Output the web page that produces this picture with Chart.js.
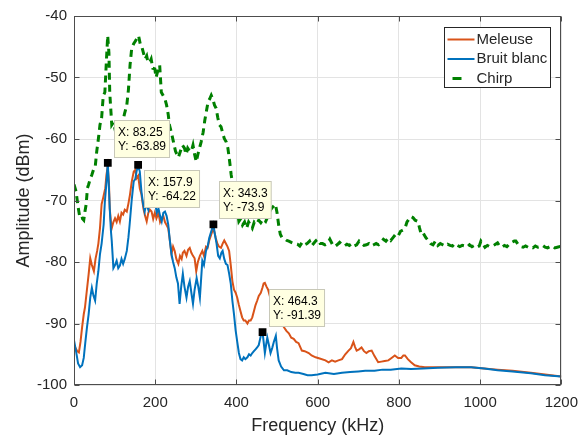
<!DOCTYPE html>
<html>
<head>
<meta charset="utf-8">
<script src="https://cdn.jsdelivr.net/npm/chart.js@4.4.0/dist/chart.umd.min.js"></script>
<style>
    html, body { margin: 0; padding: 0; background: #fff; }
    #wrap { width: 587px; height: 437px; }
</style>
</head>
<body>
<div id="wrap"><canvas id="spectrumChart"></canvas></div>
<script>
// Spectre : amplitude (dBm) vs fréquence (kHz)

const seriesNames = ['Meleuse', 'Bruit blanc', 'Chirp'];
const xTicks = [0, 200, 400, 600, 800, 1000, 1200];
const yTicks = [-100, -90, -80, -70, -60, -50, -40];

// [kHz, dBm]
const meleuse = [
    [0, -93.5], [4, -94], [8, -94.5], [12, -94.7], [16, -93], [20, -90.6], [24, -88.5], [27, -87.4],
    [31, -85], [36, -82], [40, -79.4], [44, -80.5], [49, -81.5], [53, -79.5], [57, -78.2], [60, -77],
    [64, -74.5], [68, -70.6], [72, -69.5], [77, -68], [80, -65.8], [83, -64.5], [86, -67], [88, -71.3],
    [91, -73.5], [93, -74.5], [97, -73.5], [101, -72.9], [105, -73.5], [109, -72.5], [113, -73.4], [117, -72],
    [121, -72.3], [125, -71.5], [130, -71.8], [134, -70.5], [138, -69], [142, -67], [147, -65.3], [151, -65],
    [154, -66.4], [158, -66], [162, -68], [166, -69], [171, -71.3], [175, -72.5], [179, -73.4], [183, -72],
    [187, -71.5], [191, -71.8], [195, -73], [199, -72], [203, -72.9], [208, -72], [212, -73.5], [216, -72.9],
    [220, -72.5], [224, -73.5], [228, -74], [232, -74.5], [236, -76.5], [240, -78.7], [244, -77.5], [248, -78.2],
    [252, -79.5], [257, -80.3], [261, -79], [265, -79.5], [268, -78.5], [272, -78.2], [277, -79], [281, -78],
    [285, -77.7], [289, -78.5], [293, -79], [297, -79.4], [301, -81.5], [305, -80], [310, -79], [316, -78.2],
    [320, -79], [325, -77.5], [329, -77.7], [333, -76.5], [338, -75.5], [343, -74.5], [347, -75.5], [349, -76.1],
    [353, -77], [357, -77.5], [362, -77.7], [366, -77], [370, -76.5], [374, -77], [378, -77.5], [382, -78.2],
    [386, -80.5], [390, -83.1], [394, -84.5], [398, -85], [402, -85.8], [406, -87], [410, -88], [414, -89],
    [418, -89.5], [422, -89.5], [427, -90], [431, -89.5], [435, -89.5], [439, -89], [443, -88], [447, -87],
    [451, -86.3], [455, -85.5], [460, -85], [464, -84.2], [467, -83.5], [470, -83.4], [474, -84], [478, -84.5],
    [482, -85.5], [486, -86.5], [490, -87.5], [495, -88], [500, -88.4], [505, -89.5], [511, -90], [517, -90.6],
    [523, -91.2], [529, -91.6], [535, -92.3], [541, -92.5], [547, -93], [553, -93.2], [561, -94.4], [568, -94.5],
    [578, -94.8], [585, -95.2], [595, -95.5], [605, -95.7], [619, -96], [627, -96.3], [635, -96], [643, -96.2],
    [651, -96], [660, -95.8], [668, -95], [676, -94.4], [682, -94], [688, -93], [692, -93.8], [696, -94.4],
    [702, -94.2], [708, -93.9], [714, -94.5], [720, -94.8], [726, -94.5], [733, -94.4], [740, -95.3], [749, -96.3],
    [757, -96.2], [765, -96.1], [774, -96], [782, -95.6], [790, -95.2], [798, -95.6], [806, -95.6], [811, -95.2],
    [815, -95.2], [822, -95.8], [830, -96.3], [839, -96.8], [850, -97], [864, -97.1], [880, -97.1], [900, -97.1],
    [920, -97.1], [950, -97.1], [978, -97.1], [1010, -97.3], [1043, -97.5], [1080, -97.7], [1125, -98], [1160, -98.3],
    [1200, -98.6]
];

const bruitBlanc = [
    [0, -92.7], [5, -94.5], [10, -96.5], [15, -97.1], [20, -96.8], [24, -95.6], [28, -93], [32, -90.6],
    [36, -88.5], [40, -85.8], [44, -84.2], [48, -85.5], [52, -86.3], [56, -83.5], [60, -81.5], [64, -78.7],
    [68, -77], [73, -73.9], [76, -70.2], [80, -67], [83.25, -63.89], [86, -68], [88, -71.3], [91, -75],
    [93, -76.6], [97, -81], [101, -80.5], [105, -79.8], [109, -81], [113, -80.6], [117, -79.5], [121, -80.3],
    [125, -79.5], [130, -78.2], [134, -76], [137, -73.9], [142, -70], [147, -66.9], [151, -66.5], [154, -65.3],
    [157.9, -64.22], [162, -65.3], [166, -68.5], [170, -70.5], [174, -71.8], [178, -70.5], [183, -71.5], [187, -70],
    [191, -70.6], [196, -69.5], [200, -70.5], [204, -72], [208, -71.3], [212, -72.5], [216, -73.4], [220, -72],
    [224, -71.8], [228, -72.5], [232, -73.9], [236, -76.5], [240, -78.7], [244, -80], [248, -81], [252, -82.5],
    [256, -83.5], [260, -86.8], [264, -84], [268, -81.9], [272, -84], [277, -85.8], [281, -84], [285, -83.1],
    [289, -85], [293, -86.8], [297, -84.5], [302, -82.6], [306, -84], [310, -85.8], [316, -79.8], [320, -80.5],
    [325, -78.2], [329, -77.5], [333, -76.1], [338, -75], [343.3, -73.9], [347, -75.5], [351, -77], [355, -79],
    [359, -79.4], [363, -78.5], [366, -78.2], [370, -79.5], [374, -80.3], [378, -80.5], [382, -81.9], [386, -83.5],
    [390, -86.3], [394, -88.5], [398, -91.1], [402, -93], [406, -94.8], [410, -95.8], [414, -96], [418, -95.5],
    [422, -95.8], [427, -95.5], [431, -95], [435, -95.2], [439, -94.8], [443, -94.5], [447, -94.2], [451, -93.9],
    [455, -93.5], [460, -92], [464.3, -91.39], [467, -93], [470, -94.8], [473, -93.5], [476, -92.3], [480, -93.5],
    [484, -94.8], [488, -94], [492, -93], [497, -92], [500, -94], [504, -96], [510, -97], [517, -97.6],
    [525, -97.6], [535, -97.9], [545, -98], [553, -98], [565, -98.2], [575, -98.4], [585, -98.4], [600, -98.3],
    [619, -98], [640, -98.2], [660, -98], [680, -97.9], [700, -97.8], [717, -97.7], [740, -97.7], [760, -97.5],
    [780, -97.5], [806, -97.3], [830, -97.4], [860, -97.3], [896, -97.2], [940, -97.1], [978, -97.1], [1010, -97.3],
    [1043, -97.6], [1080, -97.8], [1125, -98.1], [1160, -98.4], [1200, -98.6]
];

const chirp = [
    [0, -67.4], [5, -68.5], [10, -71], [15, -73], [20, -72.9], [24, -73.2], [27, -71.8], [30, -70.6],
    [33, -68], [36, -67.4], [40, -66.5], [44, -65.8], [48, -65], [52, -64.7], [56, -62], [60, -60],
    [64, -57.7], [68, -56.6], [72, -53], [76, -52.4], [80, -47], [83, -43.2], [86, -46], [88, -52.4],
    [91, -55.6], [93, -57.7], [97, -57.3], [103, -59], [110, -60], [118, -58], [124, -56], [130, -54.5],
    [134, -52], [138, -48], [142, -45.3], [147, -44.5], [152, -44], [156, -43.5], [159, -43.2], [163, -44.5],
    [167, -45], [171, -46], [175, -47], [179, -46.5], [182, -47.5], [186, -47.6], [190, -47], [194, -48.5],
    [199, -48.6], [202, -50], [206, -49], [211, -48], [215, -52.4], [220, -53], [224, -53.5], [228, -54.5],
    [232, -56], [235, -57.7], [240, -59], [245, -60.5], [250, -62], [257, -63], [262, -62], [267, -61],
    [272, -61.5], [276, -62.5], [280, -61.5], [285, -62], [289, -62], [293, -61], [297, -62.5], [301, -63.7],
    [305, -62.5], [309, -61.5], [313, -60.5], [318, -58.9], [322, -57], [326, -55.5], [330, -54], [334, -53.5],
    [338, -52.9], [342, -53.5], [346, -54.5], [350, -55], [354, -56.5], [358, -57.7], [362, -58], [366, -59],
    [370, -59.9], [375, -60.5], [379, -61.5], [383, -63.5], [387, -65.8], [391, -67.5], [395, -69], [399, -70.2],
    [402, -71.5], [406, -73.4], [410, -73], [415, -74], [420, -73.5], [425, -74.5], [430, -73.5], [435, -74],
    [439, -74.5], [444, -73.5], [450, -73.8], [455, -73.2], [460, -73.6], [466, -73], [472, -73.4], [478, -72.5],
    [484, -71.5], [490, -71], [496, -70.6], [500, -72], [504, -74], [508, -75.5], [512, -76], [518, -76.2],
    [524, -76.5], [529, -76.6], [535, -76.8], [542, -77], [550, -77.1], [556, -77.4], [562, -76.8], [568, -77.2],
    [574, -77], [580, -76.6], [585, -77.4], [590, -77], [596, -76.5], [600, -76.3], [606, -77], [612, -77],
    [618, -77.2], [624, -77], [630, -76.3], [636, -77.1], [642, -77.5], [648, -77.2], [654, -76.8], [660, -77.2],
    [666, -77.4], [672, -77.1], [678, -77.3], [684, -77], [690, -77.4], [696, -77.2], [702, -76.6], [708, -77],
    [714, -77.3], [720, -77.2], [726, -77], [732, -77.4], [738, -77.2], [744, -77], [750, -77.2], [756, -76.8],
    [762, -76.3], [768, -76.6], [774, -76.1], [780, -76.5], [786, -76], [792, -75.5], [798, -75.8], [804, -75],
    [810, -74.8], [815, -74.5], [820, -73.5], [825, -73], [830, -72.6], [835, -72.8], [840, -73.2], [847, -73.4],
    [851, -74.5], [855, -75.5], [860, -75.3], [866, -76], [872, -76.5], [878, -77], [884, -77.2], [890, -76.6],
    [896, -77.3], [902, -77], [908, -77.2], [914, -77.4], [920, -77.1], [926, -77.3], [932, -77.4], [938, -77],
    [944, -77.3], [950, -77.5], [956, -77.3], [962, -77.4], [968, -77.6], [974, -77.2], [980, -77.5], [986, -77.3],
    [992, -77.6], [998, -77.4], [1002, -76.6], [1006, -77], [1012, -77.6], [1018, -77.3], [1024, -77.5], [1030, -77.4],
    [1036, -77.2], [1043, -76.9], [1048, -77.4], [1054, -77.6], [1060, -77.3], [1066, -77.5], [1072, -77.1], [1078, -76.8],
    [1084, -76.6], [1088, -76.6], [1094, -77.2], [1100, -77.5], [1106, -77.6], [1112, -77.4], [1118, -77.6], [1124, -77.5],
    [1130, -77.7], [1136, -77.4], [1142, -77.6], [1148, -77.5], [1154, -77.3], [1160, -77.6], [1166, -77.7], [1172, -77.5],
    [1178, -77.4], [1184, -77.7], [1190, -77.6], [1196, -77.5], [1200, -77.7]
];

// Data tips
const tipX = [83.25, 157.9, 343.3, 464.3];
const tipY = [-63.89, -64.22, -73.9, -91.39];

const colors = {
    meleuse: '#D95319',
    bruit: '#0072BD',
    chirp: '#008000',
    axis: '#4d4d4d',
    text: '#262626',
    grid: '#e3e3e3'
};
const fontFamily = "'Liberation Sans', Arial, Helvetica, sans-serif";

function toPoints(pairs) {
    return pairs.map(p => ({ x: p[0], y: p[1] }));
}

// box + inner ticks, datatips, legend (MATLAB look)
const matlabDecor = {
    id: 'matlabDecor',
    afterDraw(chart) {
        const { ctx, chartArea: a, scales: { x, y } } = chart;
        ctx.save();

        // frame
        ctx.strokeStyle = colors.axis;
        ctx.lineWidth = 1;
        const L = Math.round(a.left) + 0.5, R = Math.round(a.right) - 0.5;
        const T = Math.round(a.top) + 0.5, B = Math.round(a.bottom) - 0.5;
        ctx.strokeRect(L, T, R - L, B - T);

        // inner ticks on all sides
        ctx.beginPath();
        xTicks.forEach(v => {
            const px = Math.round(x.getPixelForValue(v)) + 0.5;
            ctx.moveTo(px, B); ctx.lineTo(px, B - 5);
            ctx.moveTo(px, T); ctx.lineTo(px, T + 5);
        });
        yTicks.forEach(v => {
            const py = Math.round(y.getPixelForValue(v)) + 0.5;
            ctx.moveTo(L, py); ctx.lineTo(L + 5, py);
            ctx.moveTo(R, py); ctx.lineTo(R - 5, py);
        });
        ctx.stroke();

        // data tips
        const below = [false, true, false, false];
        ctx.font = '12px ' + fontFamily;
        ctx.textBaseline = 'middle';
        tipX.forEach((tx, i) => {
            const mx = x.getPixelForValue(tx);
            const my = y.getPixelForValue(tipY[i]);
            const lines = ['X: ' + tx, 'Y: ' + tipY[i]];
            const w = Math.max(...lines.map(s => ctx.measureText(s).width)) + 7;
            const h = 37;
            const bx = Math.round(mx + 6) + 0.5;
            const by = Math.round(below[i] ? my + 5 : my - 6 - h) + 0.5;
            ctx.fillStyle = '#FFFFE1';
            ctx.fillRect(bx, by, w, h);
            ctx.strokeStyle = '#c8c8b8';
            ctx.strokeRect(bx, by, w, h);
            ctx.fillStyle = '#000';
            ctx.fillText(lines[0], bx + 3.5, by + 12.5);
            ctx.fillText(lines[1], bx + 3.5, by + 26);
        });

        // legend
        const lw = 106, lh = 60;
        const lx = Math.round(a.right) - 11 - lw + 0.5;
        const ly = Math.round(a.top) + 11 + 0.5;
        ctx.fillStyle = '#fff';
        ctx.fillRect(lx, ly, lw, lh);
        ctx.strokeStyle = colors.text;
        ctx.lineWidth = 1;
        ctx.strokeRect(lx, ly, lw, lh);
        ctx.font = '15px ' + fontFamily;
        seriesNames.forEach((name, i) => {
            const ds = chart.data.datasets.find(d => d.label === name);
            const yy = ly + 12 + i * 19.5;
            ctx.strokeStyle = ds.borderColor;
            ctx.lineWidth = ds.borderWidth;
            ctx.beginPath();
            if (ds.borderDash) {
                ctx.moveTo(lx + 8, yy); ctx.lineTo(lx + 17, yy);
            } else {
                ctx.moveTo(lx + 3, yy); ctx.lineTo(lx + 30, yy);
            }
            ctx.stroke();
            ctx.fillStyle = colors.text;
            ctx.fillText(name, lx + 32, yy);
        });

        ctx.restore();
    }
};

const ctx = document.getElementById('spectrumChart');

new Chart(ctx, {
    type: 'line',
    data: {
        datasets: [
            {
                label: 'tips',
                type: 'scatter',
                data: tipX.map((v, i) => ({ x: v, y: tipY[i] })),
                pointStyle: 'rect',
                pointRadius: 5.5,
                backgroundColor: '#000',
                borderColor: '#000',
                borderWidth: 0,
                showLine: false,
                order: 0
            },
            {
                label: seriesNames[2],
                data: toPoints(chirp),
                borderColor: colors.chirp,
                borderWidth: 3,
                borderDash: [7, 5],
                pointRadius: 0,
                order: 1
            },
            {
                label: seriesNames[1],
                data: toPoints(bruitBlanc),
                borderColor: colors.bruit,
                borderWidth: 2,
                pointRadius: 0,
                order: 2
            },
            {
                label: seriesNames[0],
                data: toPoints(meleuse),
                borderColor: colors.meleuse,
                borderWidth: 2,
                pointRadius: 0,
                order: 3
            }
        ]
    },
    options: {
        responsive: true,
        maintainAspectRatio: false,
        animation: false,
        events: [],
        layout: {
            padding: { top: 13, right: 24, left: 0, bottom: 0 }
        },
        plugins: {
            legend: { display: false },
            tooltip: { enabled: false }
        },
        scales: {
            x: {
                type: 'linear',
                min: 0,
                max: 1200,
                afterBuildTicks: s => { s.ticks = xTicks.map(v => ({ value: v })); },
                afterFit: s => { s.height = 52; },
                grid: { color: colors.grid, drawTicks: false },
                border: { display: false },
                ticks: {
                    padding: 9,
                    maxRotation: 0,
                    autoSkip: false,
                    color: colors.text,
                    font: { family: fontFamily, size: 15 },
                    callback: v => String(v)
                },
                title: {
                    display: true,
                    text: 'Frequency (kHz)',
                    color: colors.text,
                    font: { family: fontFamily, size: 18 },
                    padding: { top: 0, bottom: 0 }
                }
            },
            y: {
                type: 'linear',
                min: -100,
                max: -40,
                afterBuildTicks: s => { s.ticks = yTicks.map(v => ({ value: v })); },
                afterFit: s => { s.width = 74; },
                grid: { color: colors.grid, drawTicks: false },
                border: { display: false },
                ticks: {
                    padding: 7,
                    autoSkip: false,
                    color: colors.text,
                    font: { family: fontFamily, size: 15 },
                    callback: v => String(v)
                },
                title: {
                    display: true,
                    text: 'Amplitude (dBm)',
                    color: colors.text,
                    font: { family: fontFamily, size: 18 },
                    padding: { top: 13, bottom: 0 }
                }
            }
        }
    },
    plugins: [matlabDecor]
});
</script>
</body>
</html>
